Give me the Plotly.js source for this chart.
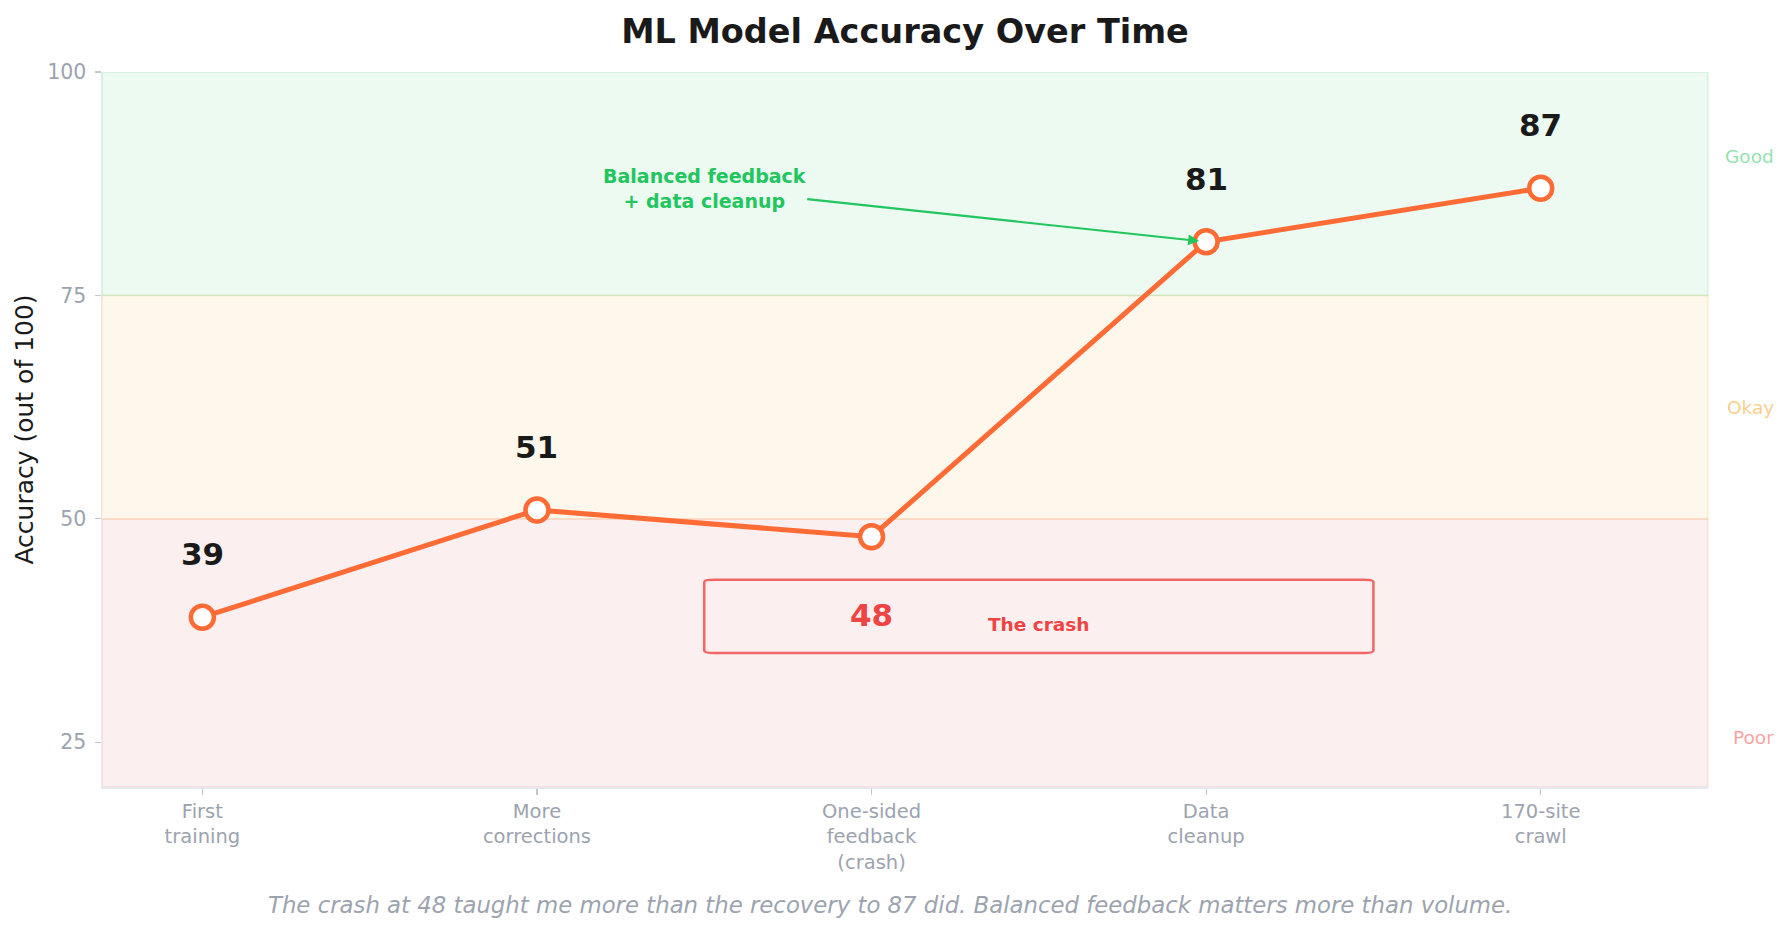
<!DOCTYPE html>
<html>
<head>
<meta charset="utf-8">
<script src="https://cdn.plot.ly/plotly-3.0.1.min.js"></script>
<style>
  html, body { margin: 0; padding: 0; background: #ffffff; }
  #chart { width: 1791px; height: 932px; }
</style>
</head>
<body>
<div id="chart"></div>
<script>
// stages of the model, accuracy out of 100
var stages = ['First<br>training', 'More<br>corrections', 'One-sided<br>feedback<br>(crash)', 'Data<br>cleanup', '170-site<br>crawl'];
var accuracy = [39, 51, 48, 81, 87];
var crashIndex = 2;
var yTicks = [25, 50, 75, 100];

// quality bands
var bandNames = ['Poor', 'Okay', 'Good'];
var bandLow = [20, 50, 75];
var bandHigh = [50, 75, 100];
var bandLabelY = [25.5, 62.5, 90.5];
var bandFill = ['rgba(225,80,80,0.09)', 'rgba(245,158,11,0.08)', 'rgba(34,197,94,0.085)'];
var bandEdge = ['rgba(239,68,68,0.12)', 'rgba(245,158,11,0.15)', 'rgba(34,197,94,0.15)'];
var bandText = ['rgba(239,68,68,0.5)', 'rgba(245,158,11,0.5)', 'rgba(34,197,94,0.5)'];

var xIdx = stages.map(function (s, i) { return i; });

var line = {
  x: xIdx,
  y: accuracy,
  type: 'scatter',
  mode: 'lines+markers',
  hoverinfo: 'none',
  line: { color: '#ff6b35', width: 5 },
  marker: { size: 23, color: '#ffffff', line: { color: '#ff6b35', width: 4.5 } }
};

var shapes = [];
var annotations = [];

for (var b = 0; b < bandNames.length; b++) {
  shapes.push({
    type: 'rect', xref: 'paper', yref: 'y', layer: 'below',
    x0: 0, x1: 1, y0: bandLow[b], y1: bandHigh[b],
    fillcolor: bandFill[b], line: { color: bandEdge[b], width: 1.5 }
  });
  annotations.push({
    xref: 'paper', yref: 'y', x: 1, y: bandLabelY[b],
    xanchor: 'right', xshift: 68, showarrow: false,
    text: bandNames[b],
    font: { family: 'DejaVu Sans', size: 18.5, color: bandText[b] }
  });
}

// value labels above points (crash gets its own callout)
for (var i = 0; i < accuracy.length; i++) {
  if (i === crashIndex) continue;
  annotations.push({
    x: i, y: accuracy[i], yshift: 63, showarrow: false,
    text: String(accuracy[i]),
    font: { family: 'DejaVu Sans', size: 31, color: '#1a1a1a', weight: 'bold' }
  });
}

// crash callout box, slightly rounded corners
var bx0 = crashIndex - 0.5, bx1 = crashIndex + 1.5, by0 = 35, by1 = 43.2;
var rx = 0.03, ry = 0.25;
shapes.push({
  type: 'path', xref: 'x', yref: 'y',
  path: 'M' + (bx0 + rx) + ',' + by0 +
        ' L' + (bx1 - rx) + ',' + by0 +
        ' Q' + bx1 + ',' + by0 + ' ' + bx1 + ',' + (by0 + ry) +
        ' L' + bx1 + ',' + (by1 - ry) +
        ' Q' + bx1 + ',' + by1 + ' ' + (bx1 - rx) + ',' + by1 +
        ' L' + (bx0 + rx) + ',' + by1 +
        ' Q' + bx0 + ',' + by1 + ' ' + bx0 + ',' + (by1 - ry) +
        ' L' + bx0 + ',' + (by0 + ry) +
        ' Q' + bx0 + ',' + by0 + ' ' + (bx0 + rx) + ',' + by0 + ' Z',
  fillcolor: 'rgba(0,0,0,0)', line: { color: 'rgba(239,68,68,0.8)', width: 2.5 }
});
annotations.push({
  x: crashIndex, y: accuracy[crashIndex] - 8.7, showarrow: false,
  text: String(accuracy[crashIndex]),
  font: { family: 'DejaVu Sans', size: 31, color: '#ef4444', weight: 'bold' }
});
annotations.push({
  x: crashIndex + 0.5, y: 38.2, showarrow: false,
  text: 'The crash',
  font: { family: 'DejaVu Sans', size: 18.5, color: '#ef4444', weight: 'bold' }
});

// recovery arrow
annotations.push({
  x: 3, y: accuracy[3], xref: 'x', yref: 'y',
  ax: 1.5, ay: 87, axref: 'x', ayref: 'y',
  showarrow: true, arrowhead: 2, arrowsize: 1, arrowwidth: 2.2,
  arrowcolor: '#22c55e', standoff: 7,
  text: 'Balanced feedback<br>+ data cleanup',
  font: { family: 'DejaVu Sans', size: 19, color: '#22c55e', weight: 'bold' }
});

// caption
annotations.push({
  xref: 'paper', yref: 'paper', x: 0.4905, y: -0.186,
  showarrow: false,
  text: 'The crash at 48 taught me more than the recovery to 87 did. Balanced feedback matters more than volume.',
  font: { family: 'DejaVu Sans', size: 22.8, color: '#9ca3af', style: 'italic' }
});

var layout = {
  width: 1791,
  height: 932,
  paper_bgcolor: '#ffffff',
  plot_bgcolor: '#ffffff',
  margin: { l: 102, r: 83, t: 72, b: 145 },
  showlegend: false,
  font: { family: 'DejaVu Sans', color: '#1a1a1a' },
  title: {
    text: 'ML Model Accuracy Over Time',
    x: 0.5, xref: 'paper', xanchor: 'center',
    y: 1 - 31 / 932, yref: 'container', yanchor: 'middle',
    font: { family: 'DejaVu Sans', size: 33.5, color: '#1a1a1a', weight: 'bold' }
  },
  xaxis: {
    range: [-0.3, 4.5],
    tickmode: 'array',
    tickvals: xIdx,
    ticktext: stages,
    showgrid: false,
    zeroline: false,
    showline: true,
    linecolor: '#e5e7eb',
    linewidth: 1.5,
    ticks: 'outside',
    ticklen: 6,
    tickwidth: 1.2,
    tickcolor: '#c4c7ce',
    tickfont: { family: 'DejaVu Sans', size: 19.5, color: '#9ca3af' }
  },
  yaxis: {
    range: [20, 100],
    tickmode: 'array',
    tickvals: yTicks,
    showgrid: false,
    zeroline: false,
    showline: true,
    linecolor: '#e5e7eb',
    linewidth: 1.5,
    ticks: 'outside',
    ticklen: 6,
    tickwidth: 1.2,
    tickcolor: '#c4c7ce',
    ticklabelstandoff: 4,
    tickfont: { family: 'DejaVu Sans', size: 20.5, color: '#9ca3af' },
    title: {
      text: 'Accuracy (out of 100)',
      standoff: 6,
      font: { family: 'DejaVu Sans', size: 25, color: '#1a1a1a' }
    }
  },
  shapes: shapes,
  annotations: annotations
};

var config = { responsive: false, displayModeBar: false, staticPlot: true };

Plotly.newPlot('chart', [line], layout, config);
</script>
</body>
</html>
